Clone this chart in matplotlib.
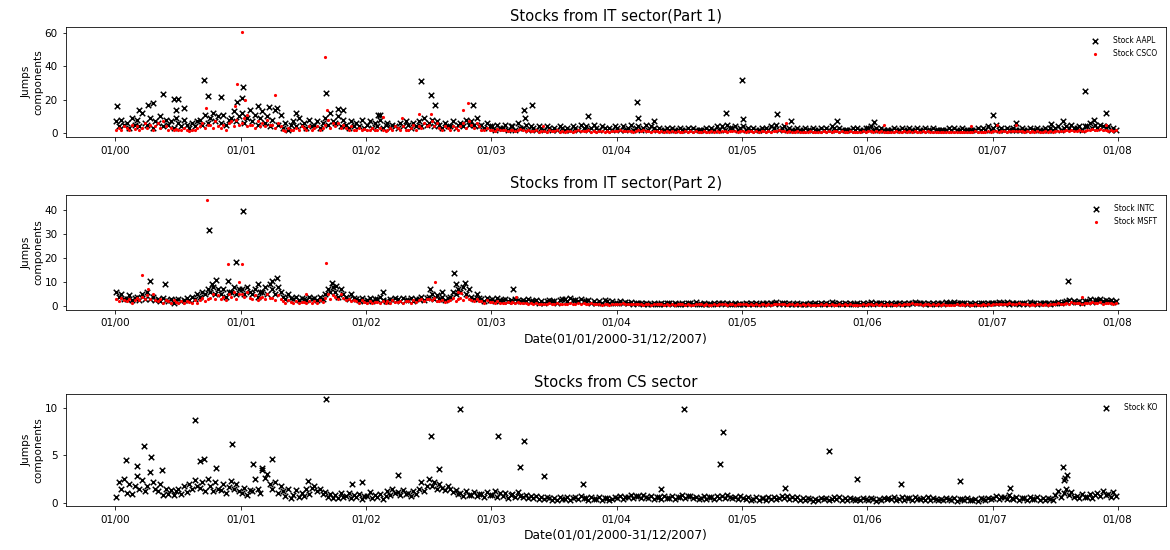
import numpy as np
import pandas as pd
import matplotlib
matplotlib.use('Agg')
import matplotlib.pyplot as plt
import matplotlib.dates as mdates
from matplotlib.ticker import MultipleLocator

# weekly readings (4 per month, 2000-2007) estimated from the chart
years = range(2000, 2008)
slot_days = [3, 11, 19, 27]
weeks = pd.to_datetime([f'{y}-{m:02d}-{d:02d}' for y in years
                        for m in range(1, 13) for d in slot_days])

aapl = [
    # 2000
    7, 4, 8, 5, 6, 3, 9, 5, 8, 4, 12, 6, 5, 9, 3, 7, 6, 10, 4, 8, 5, 7, 3, 9,
    6, 4, 8, 5, 3, 6, 4, 7, 8, 5, 11, 6, 9, 12, 7, 10, 6, 11, 5, 8, 9, 13, 7, 10,
    # 2001
    12, 6, 9, 14, 7, 11, 5, 9, 13, 6, 10, 4, 8, 14, 5, 11, 3, 6, 2, 5, 7, 4, 9, 5,
    6, 3, 8, 4, 5, 7, 3, 6, 9, 5, 12, 7, 6, 10, 4, 8, 5, 3, 7, 4, 6, 4, 8, 3,
    # 2002
    5, 7, 3, 6, 4, 8, 3, 5, 6, 3, 5, 4, 3, 6, 4, 7, 5, 3, 6, 4, 7, 4, 9, 5,
    6, 8, 4, 7, 5, 3, 6, 4, 4, 7, 3, 5, 6, 4, 8, 5, 7, 5, 9, 4, 5, 3, 6, 4,
    # 2003
    4, 2, 5, 3, 3, 5, 2, 4, 4, 2, 6, 3, 3, 5, 2, 4, 3, 2, 4, 3, 2, 4, 3, 2,
    3, 2, 4, 3, 2, 3, 2, 4, 3, 2, 5, 3, 4, 2, 3, 5, 3, 2, 4, 3, 2, 3, 2, 4,
    # 2004
    3, 2, 4, 2, 3, 5, 2, 3, 4, 2, 3, 5, 2, 4, 3, 2, 3, 2, 2, 3, 2, 3, 2, 2,
    3, 2, 2, 3, 2, 3, 2, 2, 2, 2, 3, 2, 3, 2, 4, 2, 4, 2, 5, 3, 3, 4, 2, 3,
    # 2005
    4, 2, 3, 2, 3, 2, 2, 3, 2, 3, 2, 4, 3, 5, 2, 3, 4, 2, 3, 2, 2, 3, 2, 2,
    3, 2, 2, 3, 2, 2, 3, 2, 3, 2, 4, 3, 2, 3, 2, 2, 2, 2, 3, 2, 3, 2, 2, 3,
    # 2006
    3, 4, 2, 3, 2, 3, 2, 2, 2, 2, 3, 2, 2, 3, 2, 2, 3, 2, 2, 3, 2, 2, 3, 2,
    2, 3, 2, 2, 2, 2, 2, 3, 2, 3, 2, 2, 3, 2, 2, 2, 2, 2, 3, 2, 3, 2, 4, 2,
    # 2007
    3, 5, 2, 3, 2, 3, 2, 2, 3, 2, 2, 3, 2, 2, 3, 2, 2, 3, 2, 2, 3, 2, 3, 2,
    3, 4, 2, 3, 4, 3, 5, 3, 3, 4, 2, 4, 4, 6, 3, 5, 3, 5, 4, 3, 4, 2, 3, 2,
]
aapl_peak_dates = ['2000-01-05', '2000-03-10', '2000-04-05', '2000-04-20', '2000-05-20',
                   '2000-06-20', '2000-07-01', '2000-06-25', '2000-07-20', '2000-09-15',
                   '2000-09-28', '2000-11-05', '2000-12-20', '2001-01-08', '2001-01-05',
                   '2001-02-20', '2001-03-25', '2001-04-15', '2001-06-10', '2001-09-05',
                   '2001-10-10', '2001-10-25', '2002-02-10', '2002-06-10', '2002-07-10',
                   '2002-07-20', '2002-11-10', '2002-02-05', '2003-04-05', '2003-05-01',
                   '2003-04-10', '2003-10-10', '2004-03-01', '2004-03-05', '2004-04-20',
                   '2004-11-15', '2005-01-02', '2005-01-05', '2005-04-12', '2005-05-25',
                   '2005-10-05', '2006-01-20', '2007-01-01', '2007-03-10', '2007-06-20',
                   '2007-07-25', '2007-09-28', '2007-10-25', '2007-11-28']
aapl_peak_vals = [16, 13.5, 17, 18, 23.5, 20.5, 20.5, 14, 15, 32,
                  22, 21.5, 18.5, 27.5, 21, 16, 15.5, 15, 12, 24,
                  14.5, 14, 11, 31, 22.5, 17, 16.5, 10.5, 13.5, 16.5,
                  9, 10, 18.4, 9, 7.3, 12.2, 31.8, 8.6, 11.6, 7.3,
                  7.3, 6.7, 11, 6, 5.5, 7.3, 25, 8, 12]

csco = [
    # 2000
    2, 3, 1.5, 4, 3, 2, 5, 2.5, 4, 2, 3, 6, 3, 5, 2, 4, 6, 3, 7, 4, 2, 3, 1.5, 2.5,
    2, 1.5, 3, 2, 1, 2, 1.5, 3, 4, 6, 3, 5, 5, 3, 7, 4, 3, 5, 2, 6, 7, 4, 8, 5,
    # 2001
    6, 9, 4, 5, 5, 3, 7, 4, 6, 4, 8, 5, 5, 3, 6, 4, 2, 1, 3, 1.5, 2, 3, 1.5, 4,
    3, 2, 4, 2, 3, 4, 2, 3, 5, 8, 3, 6, 4, 6, 3, 5, 3, 2, 4, 2, 2, 3, 1.5, 2.5,
    # 2002
    2, 1.5, 3, 2, 1.5, 3, 2, 1, 2, 3, 1.5, 4, 3, 2, 4, 2, 2, 3, 5, 2, 4, 3, 6, 4,
    5, 7, 4, 6, 3, 2, 4, 3, 2, 4, 3, 2, 4, 6, 3, 7, 5, 3, 6, 4, 2, 1.5, 3, 2,
    # 2003
    2, 1, 2.5, 1.5, 1.5, 2, 1, 1.5, 2, 1, 1.5, 2.5, 1.5, 1, 2, 1, 1, 1.5, 0.8, 1.2,
    1.2, 0.8, 1.5, 1, 1, 1.5, 0.8, 1.2, 0.8, 1.2, 1, 0.7, 1.2, 1.6, 1, 1.4,
    1, 1.5, 0.8, 1.2, 0.8, 1.2, 1, 0.7, 1, 0.7, 1.2, 0.9,
    # 2004
    1.2, 1.6, 0.9, 1.3, 1, 1.4, 0.8, 1.2, 1.5, 1, 1.8, 1.2, 1, 0.8, 1.3, 0.9,
    0.8, 1.1, 0.7, 1, 0.7, 1, 0.6, 0.9, 0.8, 0.6, 1, 0.7, 1, 0.7, 0.9, 0.6,
    0.7, 0.9, 0.6, 0.8, 0.9, 0.7, 1.1, 0.8, 1, 1.3, 0.8, 1.1, 0.9, 1.2, 0.7, 1,
    # 2005
    1.1, 0.8, 1.4, 0.9, 0.8, 1, 0.7, 0.9, 1, 0.7, 1.2, 0.8, 1.3, 0.9, 1.6, 1,
    1, 0.8, 1.2, 0.7, 0.7, 0.9, 0.6, 0.8, 0.8, 0.6, 1, 0.7, 0.6, 0.8, 0.7, 0.9,
    0.8, 1.1, 0.7, 0.9, 1, 0.8, 1.2, 0.7, 0.7, 0.9, 0.6, 0.8, 0.8, 0.6, 0.9, 0.7,
    # 2006
    0.9, 1.2, 0.8, 1, 0.7, 0.9, 0.6, 0.8, 0.6, 0.8, 0.7, 0.9, 0.8, 0.6, 0.9, 0.7,
    1, 0.8, 1.1, 0.7, 0.8, 1, 0.7, 0.9, 0.7, 0.6, 0.8, 0.6, 0.6, 0.8, 0.5, 0.7,
    0.7, 0.5, 0.8, 0.6, 0.6, 0.8, 0.7, 0.5, 0.7, 0.9, 0.6, 0.8, 0.8, 0.6, 0.9, 0.7,
    # 2007
    0.9, 1.2, 0.8, 1, 1, 0.8, 1.3, 0.9, 1.2, 0.9, 1.4, 1, 0.8, 1, 0.7, 0.9,
    0.7, 0.9, 0.6, 0.8, 0.9, 0.7, 1, 0.8, 1, 1.3, 0.9, 1.2, 1.5, 1.1, 1.8, 1.3,
    1.2, 1.6, 1, 1.4, 2, 1.6, 2.4, 1.8, 1.7, 2.2, 1.5, 1.9, 1.4, 1.8, 1.2, 1.6,
]
csco_peak_dates = ['2001-01-05', '2000-12-22', '2001-01-12', '2000-12-15', '2001-04-10',
                   '2001-09-03', '2001-09-08', '2000-09-20', '2001-01-20', '2002-06-05',
                   '2002-07-10', '2002-10-25', '2002-10-10', '2002-04-15', '2002-02-20',
                   '2006-02-20', '2006-10-30', '2007-01-15', '2007-03-10', '2007-11-28',
                   '2005-05-10', '2003-06-01']
csco_peak_vals = [60.5, 29.5, 20, 16, 23, 45.5, 14, 15, 11, 11.6,
                  11.6, 17.8, 14, 9, 9.8, 4.9, 4.3, 4.9, 4.9, 4.9, 6, 4]

intc = [
    # 2000
    6, 4, 5, 3, 3, 4.5, 2.5, 3.5, 4, 2.5, 5, 3, 6, 3, 4, 2.5, 3, 2, 3.5, 2.5,
    2, 3, 1.5, 2.5, 3, 2, 2.5, 3.5, 2.5, 4, 3, 5, 4, 6, 5, 7, 6, 8, 5, 7,
    5, 7, 4, 6, 6, 8, 5, 7,
    # 2001
    7, 5, 8, 6, 5, 7, 4, 6, 6, 8, 5, 9, 7, 5, 8, 6, 4, 3, 5, 3.5, 3, 4, 2.5, 3.5,
    3, 2.5, 4, 3, 3.5, 2.5, 4, 3, 5, 7, 6, 8, 6, 4, 7, 5, 4, 3, 5, 3.5, 3, 2.5, 3.5, 2,
    # 2002
    2.5, 3.5, 2, 3, 3, 4, 2.5, 2, 2, 3, 2.5, 3.5, 3, 2, 3.5, 2.5, 2.5, 3.5, 2, 3,
    3, 4, 2.5, 3.5, 4, 5, 3, 4.5, 3, 4, 2.5, 3.5, 4, 6, 5, 7, 6, 8, 5, 7,
    4, 3, 5, 3.5, 3, 2, 3.5, 2.5,
    # 2003
    3, 2, 3.5, 2.5, 2.5, 3, 2, 2.5, 2, 3, 2.5, 2, 2.5, 2, 3, 2, 2, 2.5, 1.5, 2,
    1.5, 2, 2.5, 2, 2, 1.5, 2.5, 3, 3, 2, 3.5, 2.5, 2.5, 2, 3, 2, 2, 2.5, 1.5, 2,
    1.5, 2, 1.5, 2.5, 2, 1.5, 2, 1.5,
    # 2004
    1.5, 2, 1.2, 1.8, 1.3, 1.6, 1, 1.4, 1.2, 1.5, 1, 1.3, 1.1, 0.8, 1.4, 1,
    1, 1.3, 0.9, 1.2, 1.2, 0.9, 1.5, 1, 1, 1.4, 0.8, 1.2, 1.3, 1, 1.6, 1.1,
    1, 1.2, 0.8, 1.1, 0.9, 1.2, 1, 1.4, 1.2, 0.9, 1.3, 1, 1, 1.3, 0.8, 1.1,
    # 2005
    1.1, 1.4, 0.9, 1.2, 1, 1.3, 0.8, 1.1, 1.2, 1.5, 1, 1.3, 1.4, 1.8, 1.1, 1.5,
    1.2, 0.9, 1.4, 1, 1, 1.3, 0.8, 1.1, 1.1, 0.9, 1.3, 1, 1.2, 1, 1.5, 1.1,
    1.3, 1, 1.6, 1.2, 1.1, 1.4, 0.9, 1.2, 1, 1.2, 0.8, 1.1, 1.2, 0.9, 1.4, 1,
    # 2006
    1.3, 1.6, 1.1, 1.4, 1.2, 1.5, 1, 1.3, 1.1, 1.4, 0.9, 1.2, 1.3, 1, 1.5, 1.1,
    1.5, 1.2, 1.8, 1.3, 1.2, 1.5, 1, 1.3, 1.1, 1.4, 0.9, 1.2, 1.3, 1, 1.6, 1.2,
    1.4, 1.7, 1.2, 1.5, 1.2, 1.5, 1, 1.3, 1.1, 1.3, 0.9, 1.2, 1.3, 1, 1.5, 1.2,
    # 2007
    1.5, 1.2, 1.8, 1.4, 1.3, 1.6, 1.1, 1.4, 1.2, 1.5, 1, 1.3, 1.4, 1.1, 1.6, 1.2,
    1.3, 1, 1.5, 1.2, 1.2, 1.5, 1.1, 1.4, 1.5, 1.8, 1.3, 1.6, 2, 2.5, 1.6, 2.2,
    1.8, 2.2, 1.5, 2, 2.2, 2.8, 1.9, 2.5, 2.4, 3, 2, 2.6, 2.2, 2.6, 1.8, 2.3,
]
intc_peak_dates = ['2000-10-01', '2001-01-08', '2000-12-18', '2000-04-10', '2000-05-25',
                   '2000-10-20', '2000-11-25', '2000-10-10', '2001-04-15', '2001-04-01',
                   '2001-02-20', '2001-09-25', '2001-10-05', '2002-09-15', '2002-09-20',
                   '2002-10-15', '2002-07-05', '2002-08-10', '2003-03-05', '2002-02-20',
                   '2007-08-10']
intc_peak_vals = [31.6, 39.6, 18.5, 10.3, 9, 10.7, 10.3, 9, 11.6, 10.3,
                  9, 9.5, 8.2, 13.8, 9, 9.5, 7.3, 6, 7.3, 6, 10.3]

msft = [
    # 2000
    3, 2, 3.5, 2.5, 2, 3, 1.5, 2.5, 3.5, 2.5, 4, 3, 4.5, 3, 5, 2.5, 2, 3, 1.5, 2.5,
    2, 1.5, 2.5, 1.8, 1.5, 2.2, 1.2, 2, 1.8, 1.2, 2.5, 1.5, 2.5, 3.5, 2, 3,
    3.5, 5, 3, 4.5, 3, 4, 2.5, 5, 4, 6, 3, 5,
    # 2001
    5, 4, 6, 3.5, 3, 4.5, 2.5, 3.5, 4, 3, 5, 3.5, 3.5, 2.5, 4.5, 3, 2, 1.5, 2.5, 1.8,
    1.5, 2, 1.2, 1.8, 1.8, 1.2, 2.2, 1.5, 2, 1.5, 2.5, 1.8, 3.5, 5, 3, 4.5,
    4, 3, 5, 3.5, 2.5, 3, 2, 2.5, 2, 1.5, 2.5, 1.8,
    # 2002
    1.5, 2, 1.2, 1.8, 1.8, 1.3, 2.2, 1.5, 2, 1.5, 2.5, 1.8, 1.6, 2.2, 1.3, 2,
    2, 1.5, 2.5, 1.8, 2.5, 3, 2, 2.8, 3, 2.5, 3.5, 2.2, 2, 2.5, 1.8, 2.2,
    2.5, 3.5, 2, 3, 3.5, 2.5, 4, 3, 2.5, 2, 3, 2.2, 2, 1.5, 2.5, 1.8,
    # 2003
    1.8, 1.4, 2, 1.5, 1.5, 1.2, 1.8, 1.3, 1.6, 1.2, 1.9, 1.4, 1.2, 1.5, 1, 1.3,
    1, 1.3, 0.8, 1.1, 1.1, 0.8, 1.3, 1, 0.9, 1.2, 0.8, 1, 1, 0.8, 1.2, 0.9,
    1.1, 1.3, 0.9, 1.2, 1, 0.8, 1.2, 0.9, 0.8, 1, 0.7, 0.9, 0.9, 0.7, 1, 0.8,
    # 2004
    1, 0.8, 1.2, 0.9, 0.9, 1.1, 0.8, 1, 0.8, 1, 0.7, 0.9, 0.9, 0.7, 1.1, 0.8,
    0.8, 1, 0.7, 0.9, 0.7, 0.9, 0.6, 0.8, 0.8, 1, 0.7, 0.9, 0.7, 0.6, 0.9, 0.8,
    0.8, 0.7, 1, 0.7, 0.7, 0.9, 0.6, 0.8, 0.8, 1, 0.7, 0.9, 0.9, 0.7, 1, 0.8,
    # 2005
    0.8, 1, 0.7, 0.9, 0.7, 0.9, 0.6, 0.8, 0.8, 0.6, 0.9, 0.7, 0.9, 1.1, 0.8, 1,
    0.8, 0.7, 1, 0.8, 0.7, 0.9, 0.6, 0.8, 0.6, 0.8, 0.7, 0.6, 0.7, 0.6, 0.8, 0.7,
    0.8, 0.7, 0.9, 0.6, 0.7, 0.9, 0.6, 0.8, 0.6, 0.8, 0.7, 0.6, 0.7, 0.6, 0.8, 0.7,
    # 2006
    0.8, 1, 0.7, 0.9, 0.7, 0.9, 0.6, 0.8, 0.6, 0.8, 0.7, 0.6, 0.8, 0.7, 1, 0.8,
    1, 1.2, 0.8, 1.1, 0.9, 0.7, 1, 0.8, 0.7, 0.9, 0.6, 0.8, 0.6, 0.8, 0.7, 0.6,
    0.7, 0.6, 0.8, 0.7, 0.8, 0.7, 0.9, 0.6, 0.7, 0.8, 0.6, 0.7, 0.8, 0.6, 0.9, 0.7,
    # 2007
    0.9, 1.1, 0.8, 1, 1, 0.8, 1.2, 0.9, 1.1, 0.9, 1.3, 1, 0.8, 1, 0.7, 0.9,
    0.7, 0.9, 0.8, 0.7, 0.8, 0.7, 1, 0.8, 1, 1.2, 0.9, 1.1, 1.4, 1.1, 1.7, 1.3,
    1.2, 1.5, 1, 1.3, 1.5, 1.2, 1.8, 1.4, 1.3, 1.6, 1.1, 1.4, 1.2, 1.5, 1, 1.3,
]
msft_peak_dates = ['2000-09-25', '2000-11-25', '2001-01-05', '2001-09-05', '2000-03-20',
                   '2000-04-05', '2002-07-20', '2002-09-25', '2000-12-28', '2001-07-10',
                   '2007-09-20', '2003-03-15', '2002-10-05']
msft_peak_vals = [43.9, 17.6, 17.6, 18, 12.9, 7.3, 9.9, 6, 10, 5, 4, 4, 5.5]

ko = [
    # 2000
    0.6, 2.2, 1.5, 2.5, 1, 2, 0.9, 1.8, 2.8, 1.5, 2.4, 1.2, 1.8, 3.2, 2.2, 1.5,
    1.2, 2, 0.8, 1.5, 0.9, 1.3, 0.8, 1.2, 1.5, 0.9, 1.8, 1.1, 2, 1.4, 2.4, 1.8,
    1.6, 2.2, 1.2, 2.5, 1.8, 1.2, 2.2, 1.5, 1.3, 2, 1, 1.7, 2.3, 1.5, 2, 1.2,
    # 2001
    1, 1.6, 0.8, 1.3, 1.2, 2.5, 1.5, 1, 3.5, 2.6, 3, 2, 1.5, 2.2, 1, 1.8,
    1.2, 0.7, 1.5, 0.5, 0.8, 1.3, 0.6, 1, 0.7, 1.4, 0.9, 1.6, 1.8, 1.2, 1.5, 0.9,
    1.1, 0.6, 0.9, 0.5, 0.8, 0.5, 1, 0.6, 0.7, 1, 0.5, 0.8, 0.6, 0.9, 0.4, 0.7,
    # 2002
    0.7, 1.1, 0.5, 0.8, 0.6, 0.9, 0.4, 0.7, 1.2, 0.8, 1.5, 1, 1.1, 0.8, 1.3, 0.9,
    1, 0.7, 1.2, 0.9, 1.5, 2.2, 1.2, 1.8, 2.5, 1.8, 2.2, 1.5, 2, 1.6, 1.3, 1.8,
    1.5, 1.1, 1.3, 0.9, 1, 0.7, 1.2, 0.8, 0.8, 1.1, 0.7, 0.9, 0.9, 0.6, 1.1, 0.8,
    # 2003
    0.8, 1.2, 0.6, 1, 0.7, 1, 0.5, 0.8, 0.9, 0.6, 1.1, 0.7, 0.6, 0.8, 0.5, 0.7,
    0.5, 0.7, 0.4, 0.6, 0.4, 0.6, 0.5, 0.3, 0.5, 0.3, 0.6, 0.4, 0.4, 0.6, 0.3, 0.5,
    0.6, 0.4, 0.7, 0.5, 0.5, 0.3, 0.6, 0.4, 0.4, 0.6, 0.3, 0.5, 0.5, 0.3, 0.4, 0.6,
    # 2004
    0.5, 0.7, 0.4, 0.6, 0.6, 0.8, 0.5, 0.7, 0.7, 0.5, 0.8, 0.6, 0.5, 0.7, 0.4, 0.6,
    0.6, 0.4, 0.7, 0.5, 0.5, 0.7, 0.4, 0.6, 0.6, 0.8, 0.5, 0.7, 0.7, 0.5, 0.6, 0.4,
    0.5, 0.7, 0.4, 0.6, 0.6, 0.4, 0.7, 0.5, 0.7, 0.5, 0.8, 0.6, 0.5, 0.6, 0.4, 0.7,
    # 2005
    0.5, 0.4, 0.6, 0.3, 0.4, 0.6, 0.3, 0.5, 0.5, 0.3, 0.6, 0.4, 0.6, 0.4, 0.5, 0.7,
    0.5, 0.7, 0.4, 0.6, 0.4, 0.6, 0.3, 0.5, 0.3, 0.5, 0.4, 0.2, 0.4, 0.3, 0.5, 0.4,
    0.5, 0.3, 0.4, 0.6, 0.4, 0.6, 0.3, 0.5, 0.3, 0.5, 0.4, 0.3, 0.4, 0.3, 0.5, 0.4,
    # 2006
    0.3, 0.5, 0.4, 0.2, 0.4, 0.3, 0.5, 0.4, 0.5, 0.4, 0.6, 0.3, 0.4, 0.6, 0.3, 0.5,
    0.5, 0.3, 0.6, 0.4, 0.4, 0.5, 0.3, 0.6, 0.3, 0.5, 0.4, 0.3, 0.4, 0.3, 0.5, 0.4,
    0.3, 0.5, 0.2, 0.4, 0.4, 0.3, 0.5, 0.3, 0.3, 0.4, 0.2, 0.5, 0.4, 0.3, 0.5, 0.4,
    # 2007
    0.5, 0.7, 0.4, 0.6, 0.6, 0.4, 0.8, 0.5, 0.4, 0.6, 0.3, 0.5, 0.5, 0.3, 0.6, 0.4,
    0.4, 0.6, 0.3, 0.5, 0.3, 0.5, 0.4, 0.3, 0.8, 1.2, 0.6, 1, 1.5, 0.8, 1.1, 0.6,
    0.7, 0.5, 0.9, 0.6, 0.6, 0.9, 0.5, 0.8, 1, 0.7, 1.2, 0.8, 0.9, 0.6, 1.1, 0.7,
]
ko_peak_dates = ['2000-02-01', '2000-03-05', '2000-03-25', '2000-04-15', '2000-05-15',
                 '2000-08-20', '2000-09-05', '2000-09-15', '2000-10-20', '2000-12-05',
                 '2001-02-05', '2001-03-05', '2001-04-01', '2001-09-05', '2001-07-15',
                 '2001-11-20', '2001-12-20', '2002-04-05', '2002-07-10', '2002-08-01',
                 '2002-10-01', '2003-01-20', '2003-04-05', '2003-03-25', '2003-06-05',
                 '2003-09-25', '2004-05-10', '2004-07-15', '2004-11-05', '2004-10-28',
                 '2005-05-05', '2005-09-10', '2005-12-01', '2006-04-10', '2006-09-28',
                 '2007-02-20', '2007-07-25', '2007-07-28', '2007-08-01', '2007-08-05']
ko_peak_vals = [4.45, 3.9, 6, 4.8, 3.5, 8.7, 4.35, 4.6, 3.7, 6.2,
                4.1, 3.7, 4.6, 10.9, 2.3, 2.0, 2.2, 2.9, 7, 3.6,
                9.9, 7.05, 6.5, 3.8, 2.8, 2.0, 1.5, 9.9, 7.4, 4.1,
                1.6, 5.4, 2.5, 1.95, 2.3, 1.6, 3.8, 2.45, 2.6, 2.9]


def series(base, peak_dates, peak_vals):
    x = list(weeks) + list(pd.to_datetime(peak_dates))
    y = list(base) + list(peak_vals)
    return x, y


def style_axis(ax, title, xlabel=None):
    ax.set_title(title, fontsize=14.8, pad=7)
    ax.set_ylabel('Jumps\ncomponents', fontsize=10.5, labelpad=1)
    ax.xaxis.set_major_locator(mdates.YearLocator())
    ax.xaxis.set_major_formatter(mdates.DateFormatter('%m/%y'))
    ax.tick_params(labelsize=10.4, pad=5)
    if xlabel:
        ax.set_xlabel(xlabel, fontsize=12.2, labelpad=4)
    ax.legend(loc='upper right', frameon=False, fontsize=7.5,
              handletextpad=1.4, borderaxespad=0.8)


fig = plt.figure(figsize=(1170 / 72, 550 / 72), dpi=72)
ax1 = fig.add_axes([0.0564, 0.7509, 0.9402, 0.2000])
ax2 = fig.add_axes([0.0564, 0.4364, 0.9402, 0.2091])
ax3 = fig.add_axes([0.0564, 0.0800, 0.9402, 0.2036])

x, y = series(aapl, aapl_peak_dates, aapl_peak_vals)
ax1.scatter(x, y, marker='x', c='black', s=30, linewidths=1.5, label='Stock AAPL')
x, y = series(csco, csco_peak_dates, csco_peak_vals)
ax1.scatter(x, y, marker='o', c='red', s=10, linewidths=0, label='Stock CSCO')
style_axis(ax1, 'Stocks from IT sector(Part 1)')

x, y = series(intc, intc_peak_dates, intc_peak_vals)
ax2.scatter(x, y, marker='x', c='black', s=30, linewidths=1.5, label='Stock INTC')
x, y = series(msft, msft_peak_dates, msft_peak_vals)
ax2.scatter(x, y, marker='o', c='red', s=10, linewidths=0, label='Stock MSFT')
style_axis(ax2, 'Stocks from IT sector(Part 2)', 'Date(01/01/2000-31/12/2007)')

x, y = series(ko, ko_peak_dates, ko_peak_vals)
ax3.scatter(x, y, marker='x', c='black', s=30, linewidths=1.5, label='Stock KO')
style_axis(ax3, 'Stocks from CS sector', 'Date(01/01/2000-31/12/2007)')
ax3.yaxis.set_major_locator(MultipleLocator(5))

fig.savefig('out.png', dpi=72)
